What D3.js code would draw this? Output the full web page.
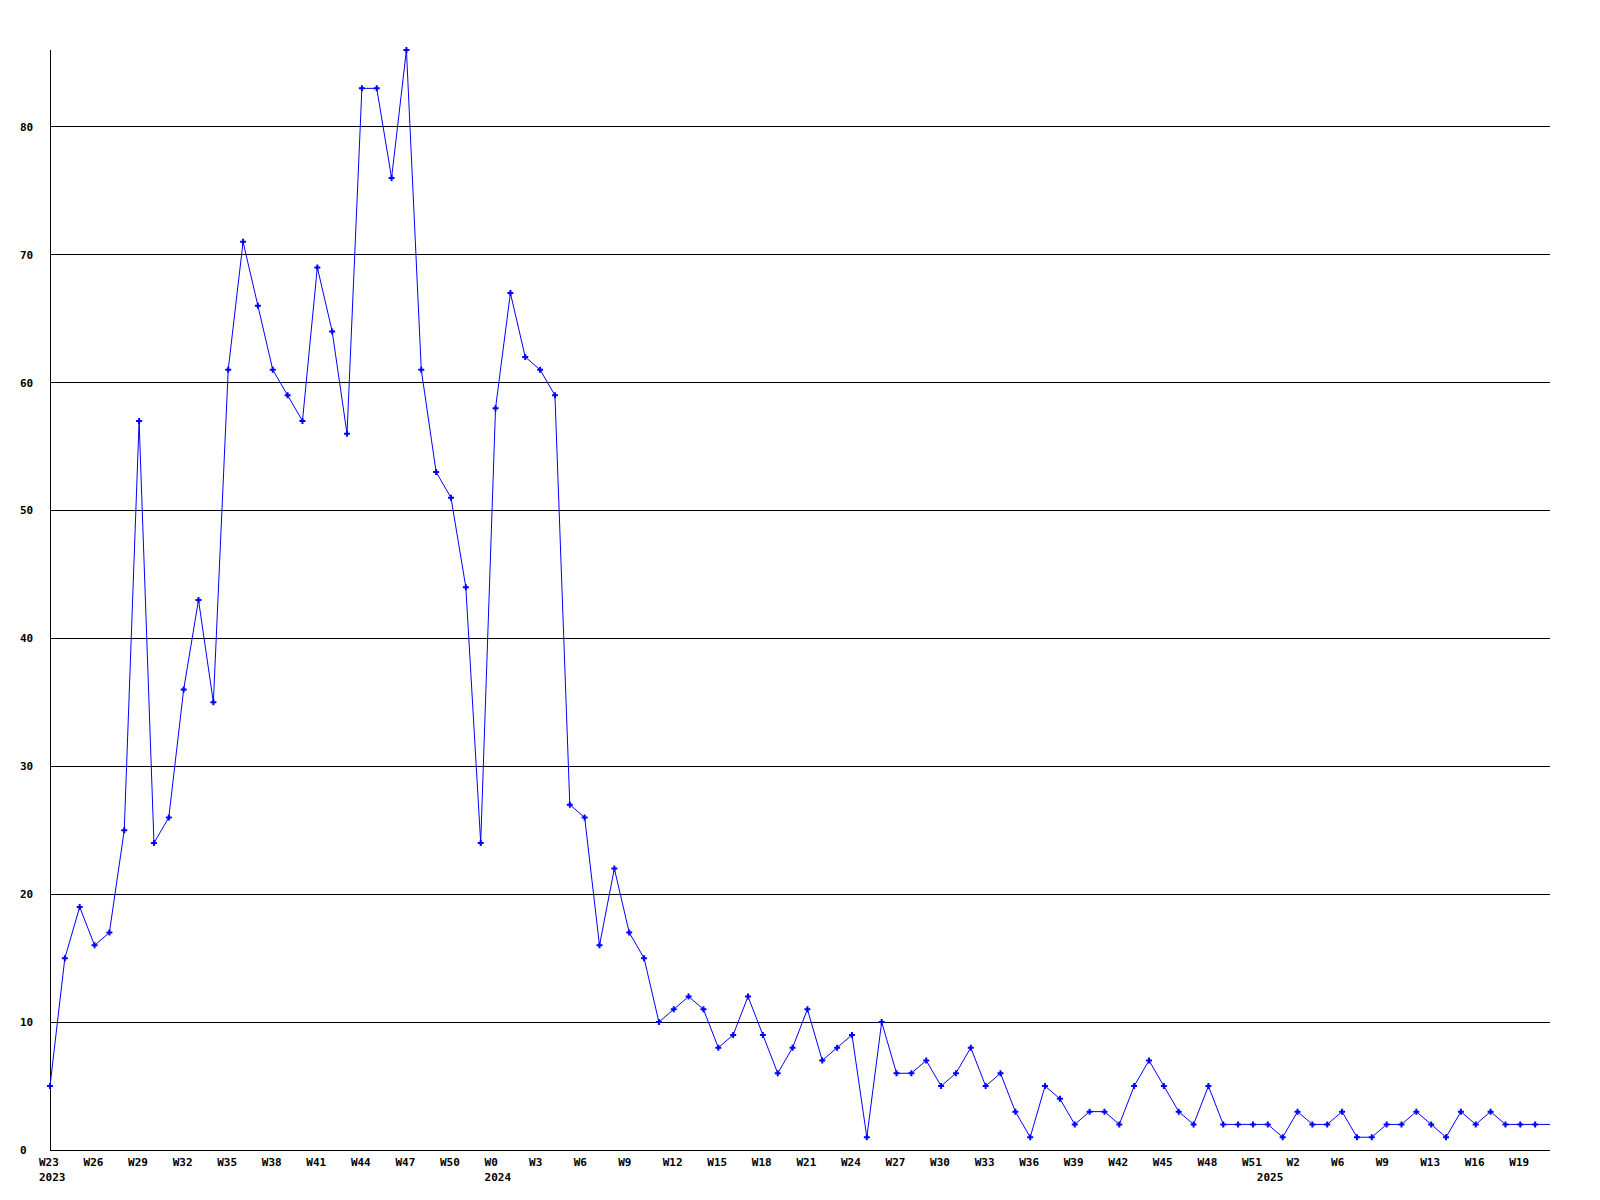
<!DOCTYPE html>
<html>
<head>
<meta charset="utf-8">
<script src="https://cdn.jsdelivr.net/npm/d3@7"></script>
<style>
  html, body { margin: 0; padding: 0; background: #fff; }
  svg { display: block; }
  text { font-family: "DejaVu Sans Mono", "Liberation Mono", monospace; font-weight: bold; font-size: 11px; fill: #000; }
</style>
</head>
<body>
<script>
// Weekly values, one per week starting W23 2023
const values = [5, 15, 19, 16, 17, 25, 57, 24, 26, 36, 43, 35, 61, 71, 66, 61, 59, 57, 69, 64,
  56, 83, 83, 76, 86, 61, 53, 51, 44, 24, 58, 67, 62, 61, 59, 27, 26, 16, 22, 17,
  15, 10, 11, 12, 11, 8, 9, 12, 9, 6, 8, 11, 7, 8, 9, 1, 10, 6, 6, 7,
  5, 6, 8, 5, 6, 3, 1, 5, 4, 2, 3, 3, 2, 5, 7, 5, 3, 2, 5, 2,
  2, 2, 2, 1, 3, 2, 2, 3, 1, 1, 2, 2, 3, 2, 1, 3, 2, 3, 2, 2,
  2, 2];

// Week tick labels, one every 3rd week
const weekLabels = ["W23", "W26", "W29", "W32", "W35", "W38", "W41", "W44", "W47", "W50",
  "W0", "W3", "W6", "W9", "W12", "W15", "W18", "W21", "W24", "W27", "W30", "W33", "W36",
  "W39", "W42", "W45", "W48", "W51", "W2", "W6", "W9", "W13", "W16", "W19"];
const weekLabelStep = 3;

// Year labels and the week index where they appear
const yearLabels = ["2023", "2024", "2025"];
const yearIndex = [0, 30, 82];

const yTicks = [0, 10, 20, 30, 40, 50, 60, 70, 80];
const yMax = 86;

(function () {
  const W = 1600, H = 1200;
  const mLeft = 50, mRight = 1550, mTop = 50, mBottom = 1150;

  const svg = d3.select("body").append("svg").attr("width", W).attr("height", H);

  const x = d3.scaleLinear().domain([0, values.length - 1]).range([mLeft, mRight]);
  const y = d3.scaleLinear().domain([0, yMax]).range([mBottom, mTop]);

  // grid lines + y labels
  const gy = svg.append("g");
  gy.selectAll("line.grid").data(yTicks.filter(d => d > 0)).join("line")
    .attr("x1", mLeft).attr("x2", mRight)
    .attr("y1", d => Math.floor(y(d)) + 0.5).attr("y2", d => Math.floor(y(d)) + 0.5)
    .attr("stroke", "#000").attr("stroke-width", 1).attr("shape-rendering", "crispEdges");
  gy.selectAll("text.ylab").data(yTicks).join("text")
    .attr("x", 20).attr("y", d => y(d)).attr("dy", "0.36em")
    .attr("text-anchor", "start").text(d => d);

  // axis lines
  svg.append("line").attr("x1", mLeft + 0.5).attr("x2", mLeft + 0.5).attr("y1", mTop).attr("y2", mBottom)
    .attr("stroke", "#000").attr("shape-rendering", "crispEdges");
  svg.append("line").attr("x1", mLeft).attr("x2", mRight).attr("y1", mBottom + 0.5).attr("y2", mBottom + 0.5)
    .attr("stroke", "#000").attr("shape-rendering", "crispEdges");

  // x labels
  svg.selectAll("text.wk").data(weekLabels).join("text")
    .attr("x", (d, i) => x(i * weekLabelStep) - 11).attr("y", 1166)
    .attr("text-anchor", "start").text(d => d);
  svg.selectAll("text.yr").data(yearLabels).join("text")
    .attr("x", (d, i) => x(yearIndex[i]) - 11).attr("y", 1181)
    .attr("text-anchor", "start").text(d => d);

  // line
  const line = d3.line().x((d, i) => x(i)).y(d => y(d));
  svg.append("path").datum(values).attr("d", line)
    .attr("fill", "none").attr("stroke", "#0000ff").attr("stroke-width", 1);

  // markers (the final partial week has none)
  const marker = "M-1,-3h2v2h2v2h-2v2h-2v-2h-2v-2h2z";
  svg.selectAll("path.m").data(values.slice(0, values.length - 1)).join("path")
    .attr("transform", (d, i) => `translate(${x(i)},${y(d)})`)
    .attr("d", marker).attr("fill", "#0000ff");
})();
</script>
</body>
</html>
